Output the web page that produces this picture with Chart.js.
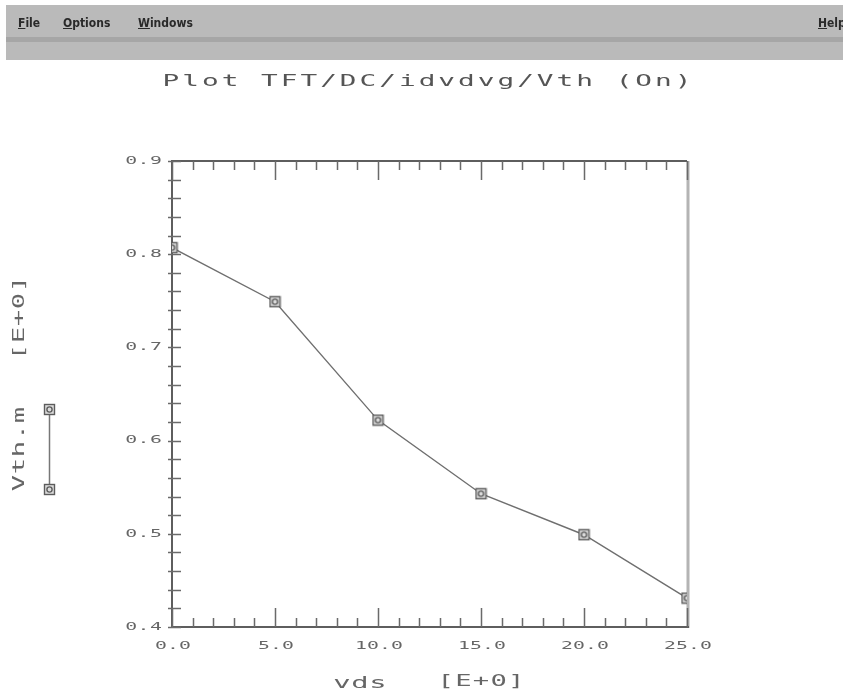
<!DOCTYPE html>
<html>
<head>
<meta charset="utf-8">
<script src="https://cdn.jsdelivr.net/npm/chart.js@4.4.1/dist/chart.umd.min.js"></script>
<style>
  html, body { margin: 0; padding: 0; background: #fff; }
  #wrap { position: absolute; left: 0; top: 0; width: 843px; height: 696px; }
  #menubar {
    position: absolute; left: 6px; top: 5px; right: 0; height: 55px;
    background: #bababa; z-index: 2;
    font: bold 12px "Liberation Sans Narrow", "DejaVu Sans Condensed", sans-serif;
    color: #2a2a2a;
  }
  #menubar .sep { position: absolute; left: 0; right: 0; top: 32px; height: 5px; background: #a6a6a6; }
  #menubar span { position: absolute; top: 11px; }
  #menubar u { text-decoration: underline; }
</style>
</head>
<body>
<div id="wrap">
  <div id="menubar">
    <span style="left:12px"><u>F</u>ile</span>
    <span style="left:57px"><u>O</u>ptions</span>
    <span style="left:132px"><u>W</u>indows</span>
    <span style="left:812px"><u>H</u>elp</span>
    <div class="sep"></div>
  </div>
  <canvas id="vthChart" width="843" height="696"></canvas>
</div>
<script>
// Vth vs Vds sweep
const vdsValues = [0, 5, 10, 15, 20, 25];
const vthValues = [0.807, 0.749, 0.622, 0.543, 0.499, 0.431];
const xTickValues = [0, 5, 10, 15, 20, 25];
const xTickLabels = ["0.0", "5.0", "10.0", "15.0", "20.0", "25.0"];
const yTickValues = [0.4, 0.5, 0.6, 0.7, 0.8, 0.9];
const yTickLabels = ["0.4", "0.5", "0.6", "0.7", "0.8", "0.9"];

const plotTitle = "Plot TFT/DC/idvdvg/Vth (On)";
const xTitle = ["vds", "[E+0]"];
const yTitle = ["Vth.m", "[E+0]"];

const monoFont = '"DejaVu Sans Mono", monospace';

// wide terminal-style text: one glyph per fixed pitch, stretched sideways
function drawSpaced(ctx, text, x, y, opts) {
  const pitch = opts.pitch, sx = opts.sx || 1.5;
  const total = pitch * text.length;
  let start = x;
  if (opts.align === "center") start = x - total / 2;
  else if (opts.align === "right") start = x - total;
  ctx.save();
  ctx.font = opts.size + "px " + monoFont;
  ctx.fillStyle = opts.color || "#666";
  ctx.textAlign = "center";
  ctx.textBaseline = "middle";
  for (let i = 0; i < text.length; i++) {
    ctx.save();
    ctx.translate(start + pitch * (i + 0.5), y);
    ctx.scale(sx, 1);
    ctx.fillText(text[i], 0, 0);
    ctx.restore();
  }
  ctx.restore();
}

// square marker with a small ring inside
function makeMarker() {
  const c = document.createElement("canvas");
  c.width = 13; c.height = 13;
  const g = c.getContext("2d");
  g.fillStyle = "#dcdcdc";
  g.fillRect(1, 1, 11, 11);
  g.strokeStyle = "#5c5c5c";
  g.lineWidth = 1.4;
  g.strokeRect(1.5, 1.5, 10, 10);
  g.beginPath();
  g.arc(6.5, 6.5, 2.6, 0, Math.PI * 2);
  g.stroke();
  return c;
}

const framePlugin = {
  id: "frame",
  beforeDatasetsDraw(chart) {
    const ctx = chart.ctx;
    const xs = chart.scales.x, ys = chart.scales.y;
    const a = chart.chartArea;
    ctx.save();

    // right border, lighter
    ctx.strokeStyle = "#b4b4b4";
    ctx.lineWidth = 3;
    ctx.beginPath();
    ctx.moveTo(a.right + 1, a.top);
    ctx.lineTo(a.right + 1, a.bottom + 1);
    ctx.stroke();

    // left, bottom, top borders
    ctx.strokeStyle = "#5e5e5e";
    ctx.lineWidth = 2;
    ctx.beginPath();
    ctx.moveTo(a.right, a.top);
    ctx.lineTo(a.left, a.top);
    ctx.lineTo(a.left, a.bottom);
    ctx.lineTo(a.right + 2, a.bottom);
    ctx.stroke();

    // x ticks, pointing inward at bottom and top
    ctx.lineWidth = 1.5;
    ctx.strokeStyle = "#6a6a6a";
    for (let v = 0; v <= 25; v++) {
      const px = Math.round(xs.getPixelForValue(v)) + 0.5;
      const len = v % 5 === 0 ? 19 : 9;
      ctx.beginPath();
      ctx.moveTo(px, a.bottom);
      ctx.lineTo(px, a.bottom - len);
      ctx.moveTo(px, a.top);
      ctx.lineTo(px, a.top + len);
      ctx.stroke();
    }
    // y ticks on the left axis
    for (let i = 0; i <= 25; i++) {
      const py = Math.round(ys.getPixelForValue(0.4 + i * 0.02)) + 0.5;
      ctx.beginPath();
      ctx.moveTo(a.left - 4, py);
      ctx.lineTo(a.left + 9, py);
      ctx.stroke();
    }
    ctx.restore();
  },
  afterDraw(chart) {
    const ctx = chart.ctx;
    const xs = chart.scales.x, ys = chart.scales.y;
    const a = chart.chartArea;

    yTickValues.forEach((v, i) => {
      drawSpaced(ctx, yTickLabels[i], a.left - 10, ys.getPixelForValue(v), { pitch: 12.3, size: 11, sx: 1.8, align: "right" });
    });
    xTickValues.forEach((v, i) => {
      drawSpaced(ctx, xTickLabels[i], xs.getPixelForValue(v) + 1, a.bottom + 19, { pitch: 12, size: 11, sx: 1.8, align: "center" });
    });

    drawSpaced(ctx, plotTitle, 427, 82, { pitch: 19.7, size: 15, sx: 1.85, align: "center", color: "#555" });

    drawSpaced(ctx, xTitle[0], 360, 684, { pitch: 18, size: 16, sx: 1.8, align: "center" });
    drawSpaced(ctx, xTitle[1], 481, 682, { pitch: 17.6, size: 16, sx: 1.7, align: "center" });

    // rotated y title
    ctx.save();
    ctx.translate(20, 0);
    ctx.rotate(-Math.PI / 2);
    drawSpaced(ctx, yTitle[0], -449, 0, { pitch: 17, size: 16, sx: 1.7, align: "center" });
    drawSpaced(ctx, yTitle[1], -318, 0, { pitch: 17, size: 16, sx: 1.7, align: "center" });
    ctx.restore();

    // legend key: line between two markers
    const mk = makeMarker();
    ctx.save();
    ctx.strokeStyle = "#777";
    ctx.lineWidth = 1.5;
    ctx.beginPath();
    ctx.moveTo(49.5, 410);
    ctx.lineTo(49.5, 489);
    ctx.stroke();
    ctx.drawImage(mk, 43, 403);
    ctx.drawImage(mk, 43, 483);
    ctx.restore();
  }
};

const ctx = document.getElementById("vthChart").getContext("2d");
const vthChart = new Chart(ctx, {
  type: "line",
  data: {
    datasets: [
      {
        label: "Vth.m",
        data: vdsValues.map((x, i) => ({ x: x, y: vthValues[i] })),
        borderColor: "#6f6f6f",
        borderWidth: 1.4,
        pointStyle: makeMarker(),
        pointRadius: 6,
        tension: 0,
      },
    ],
  },
  options: {
    responsive: false,
    animation: false,
    layout: {
      padding: { left: 172, right: 156, top: 161, bottom: 69 },
    },
    scales: {
      x: { type: "linear", display: false, min: 0, max: 25 },
      y: { type: "linear", display: false, min: 0.4, max: 0.9 },
    },
    plugins: {
      legend: { display: false },
      tooltip: { enabled: false },
      title: { display: false },
    },
  },
  plugins: [framePlugin],
});
</script>
</body>
</html>
